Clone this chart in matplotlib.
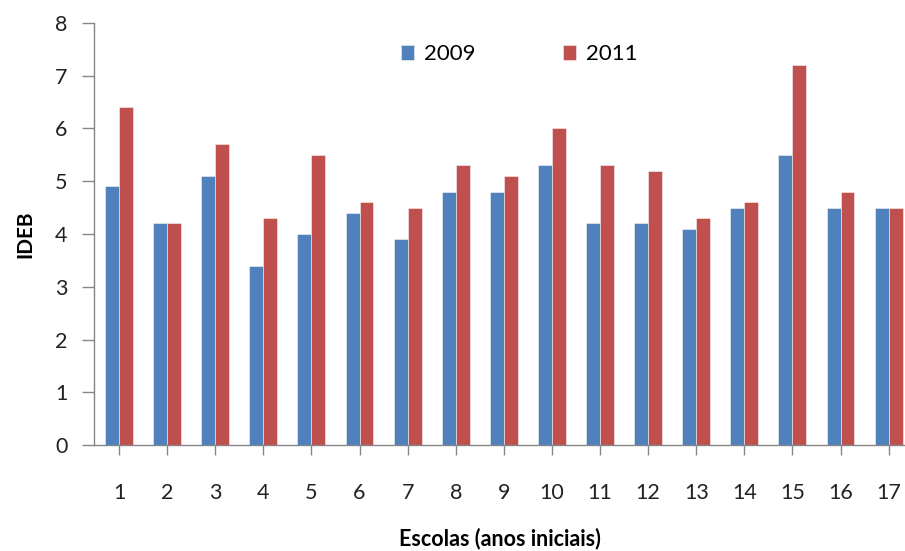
import numpy as np
import matplotlib
matplotlib.use("Agg")
import matplotlib.pyplot as plt

plt.rcParams['font.family'] = ['Lato', 'DejaVu Sans']

escolas = [str(i) for i in range(1, 18)]
ideb_2009 = [4.9, 4.2, 5.1, 3.4, 4.0, 4.4, 3.9, 4.8, 4.8, 5.3, 4.2, 4.2, 4.1, 4.5, 5.5, 4.5, 4.5]
ideb_2011 = [6.4, 4.2, 5.7, 4.3, 5.5, 4.6, 4.5, 5.3, 5.1, 6.0, 5.3, 5.2, 4.3, 4.6, 7.2, 4.8, 4.5]

azul = '#4F81BD'
vermelho = '#C0504D'
cinza = '#868686'

fig = plt.figure(figsize=(9.05, 5.51), dpi=100)
ax = fig.add_axes([94 / 905, (551 - 445.3) / 551, (905 - 94) / 905, (445.3 - 22.7) / 551])

x = np.arange(1, len(escolas) + 1)
w = 0.29
ax.bar(x - w / 2, ideb_2009, width=w, color=azul, edgecolor='#f4f4f4', linewidth=0.4, label='2009')
ax.bar(x + w / 2, ideb_2011, width=w, color=vermelho, edgecolor='#f4f4f4', linewidth=0.4, label='2011')

ax.set_xlim(0.48, 17.34)
ax.set_ylim(0, 8)
ax.set_xticks(x)
ax.set_xticklabels(escolas)
ax.set_yticks(range(0, 9))

for side in ['top', 'right']:
    ax.spines[side].set_visible(False)
for side in ['left', 'bottom']:
    ax.spines[side].set_color(cinza)
    ax.spines[side].set_linewidth(1.0)

ax.tick_params(axis='x', length=7, width=1, color=cinza, pad=20, labelsize=15.5, labelcolor='#222222')
ax.tick_params(axis='y', length=9, width=1, color=cinza, pad=10, labelsize=15.5, labelcolor='#222222')

ax.set_ylabel('IDEB', fontsize=15, fontweight='bold', labelpad=14)
ax.set_xlabel('Escolas (anos iniciais)', fontsize=15.5, fontweight='bold', labelpad=18)

ax.legend(loc='upper left', bbox_to_anchor=(0.365, 0.975), ncol=2, frameon=False,
          fontsize=16, handlelength=0.6, handleheight=0.6, handletextpad=0.45,
          columnspacing=3.9, borderpad=0)

fig.savefig('out.png', dpi=100)
